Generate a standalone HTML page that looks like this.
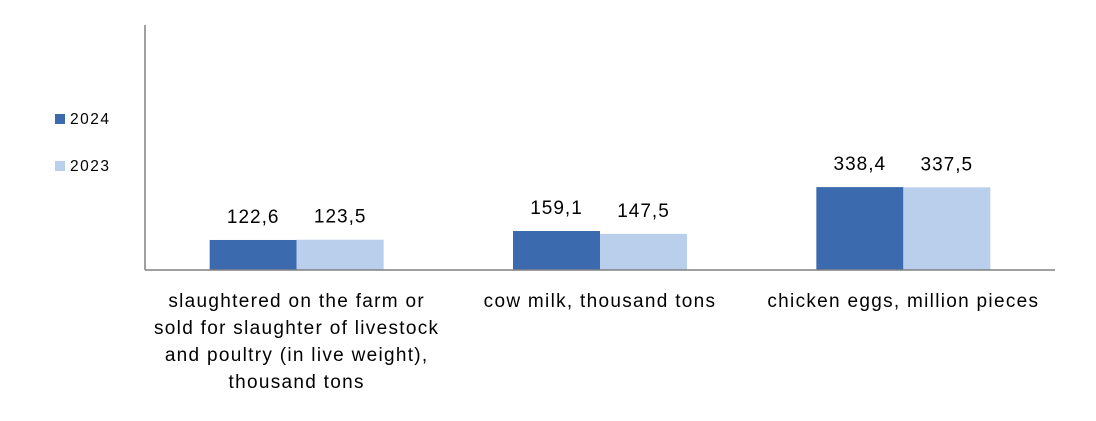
<!DOCTYPE html>
<html><head><meta charset="utf-8"><style>
body{margin:0;background:#fff;}
svg text{font-family:"Liberation Sans",sans-serif;fill:#000;}
</style></head><body>
<svg id="chart" width="1096" height="416" xmlns="http://www.w3.org/2000/svg"></svg>
<script>
const categories=[["slaughtered on the farm or","sold for slaughter of livestock","and poultry (in live weight),","thousand tons"],["cow milk, thousand tons"],["chicken eggs, million pieces"]];
const seriesNames=["2024","2023"];
const values2024=[122.6,159.1,338.4];
const values2023=[123.5,147.5,337.5];
const labels2024=["122,6","159,1","338,4"];
const labels2023=["123,5","147,5","337,5"];
const colors=["#3c6aae","#b9cfec"];
const svg=document.getElementById('chart');
const NS="http://www.w3.org/2000/svg";
const x0=145,x1=1055,yBase=270,yTop=25,yMax=1000;
const y=v=>yBase-(v/yMax)*(yBase-yTop);
const band=(x1-x0)/categories.length;
const cx=i=>x0+band*(i+0.5);
const bw=87;
function mk(t,a){const e=document.createElementNS(NS,t);for(const k in a)e.setAttribute(k,a[k]);svg.appendChild(e);return e;}
const yl=mk('line',{x1:x0,y1:yTop,x2:x0,y2:yBase,stroke:'#808080','stroke-width':1.5});


const series=[values2024,values2023],labs=[labels2024,labels2023];
series.forEach((vals,s)=>{vals.forEach((v,i)=>{
 const bx=cx(i)-bw+s*bw;
 const r=mk('rect',{x:bx,y:y(v),width:bw,height:yBase-y(v),fill:colors[s]});
 
 
 const t=mk('text',{x:bx+bw/2,y:y(v)-17,'text-anchor':'middle','font-size':19,'letter-spacing':1});
 t.textContent=labs[s][i];
 
 
});});
const xl=mk('line',{x1:x0,y1:yBase,x2:x1,y2:yBase,stroke:'#808080','stroke-width':1.5});


categories.forEach((lines,i)=>{lines.forEach((ln,j)=>{
 const t=mk('text',{x:cx(i),y:307+j*27,'text-anchor':'middle','font-size':19,'letter-spacing':1.3});
 t.textContent=ln;
 
 
});});
seriesNames.forEach((n,s)=>{
 const r=mk('rect',{x:55,y:114+s*47,width:10,height:10,fill:colors[s]});
 
 
 const t=mk('text',{x:70,y:124+s*47,'font-size':15.5,'letter-spacing':1.5});
 t.textContent=n;
 
 
});
</script>
</body></html>
